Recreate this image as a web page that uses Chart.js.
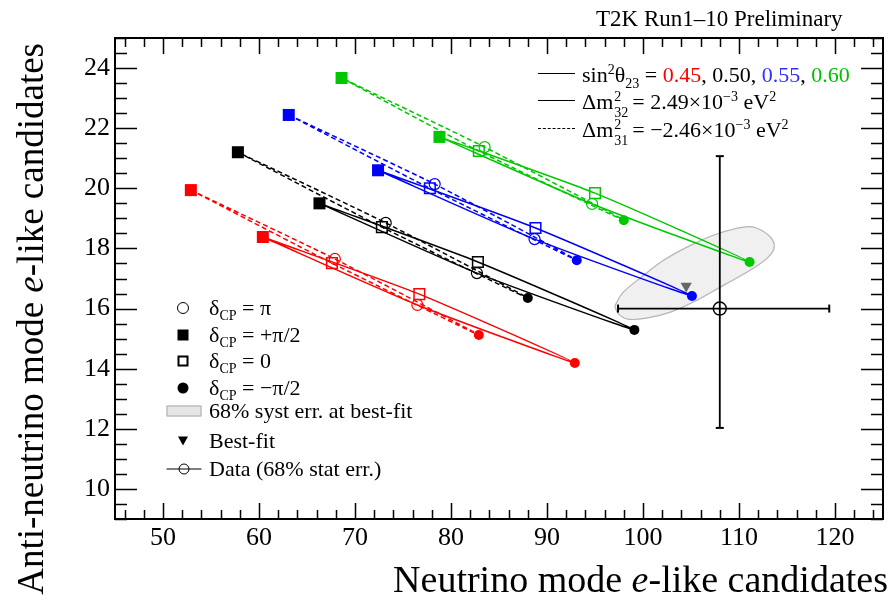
<!DOCTYPE html>
<html>
<head>
<meta charset="utf-8">
<script src="https://cdn.jsdelivr.net/npm/chart.js@4.4.1/dist/chart.umd.min.js"></script>
<style>
  body { margin: 0; background: #fff; }
  #wrap { position: relative; width: 892px; height: 605px; font-family: 'Liberation Serif', 'Times New Roman', serif; color: #000; }
  #plot { position: absolute; left: 0; top: 0; }
  .txt { position: absolute; white-space: nowrap; line-height: 1; }
  .red { color: #ff0000; } .blue { color: #3030ff; } .green { color: #00c000; }
  .ss { position: relative; display: inline-block; width: 19px; height: 1px; }
  .ss .up { position: absolute; left: 1px; bottom: 5px; font-size: 14px; }
  .ss .dn { position: absolute; left: 1px; top: -2px; font-size: 14px; }
  .sm { font-size: 14px; }
  .lsamp { position: absolute; left: 538px; width: 37px; border-top: 1.5px solid #000; }
  .lsamp.dash { border-top: 1.5px dashed #000; }
  .sym { position: absolute; transform: translate(-50%, -50%); box-sizing: border-box; }
  .ocirc { width: 12px; height: 12px; border: 1.5px solid #000; border-radius: 50%; }
  .fsq { width: 11px; height: 11px; background: #000; }
  .osq { width: 11px; height: 11px; border: 2px solid #000; }
  .fcirc { width: 11px; height: 11px; border-radius: 50%; background: #000; }
  .gbox { width: 35px; height: 11px; background: #e6e6e6; border: 1.5px solid #aaa; }
  .tri { width: 0; height: 0; border-left: 5px solid transparent; border-right: 5px solid transparent; border-top: 9px solid #000; }
  .hl { width: 35px; height: 0; border-top: 1.5px solid #000; }
  .leg2 { font-size: 22px; }
  .leg2 sub { font-size: 14px; vertical-align: -5px; }
</style>
</head>
<body>
<div id="wrap">
  <canvas id="plot" width="892" height="605"></canvas>

  <div class="txt" style="left:596px; top:7px; font-size:23px;">T2K Run1–10 Preliminary</div>

  <div class="lsamp" style="top:73px;"></div>
  <div class="txt" style="left:582px; top:63px; font-size:22px;">sin<sup class="sm">2</sup>θ<sub class="sm">23</sub> = <span class="red">0.45</span>, 0.50, <span class="blue">0.55</span>, <span class="green">0.60</span></div>
  <div class="lsamp" style="top:100px;"></div>
  <div class="txt" style="left:582px; top:90px; font-size:22px;">Δm<span class="ss"><span class="up">2</span><span class="dn">32</span></span>= 2.49×10<sup class="sm">−3</sup> eV<sup class="sm">2</sup></div>
  <div class="lsamp dash" style="top:128px;"></div>
  <div class="txt" style="left:582px; top:118px; font-size:22px;">Δm<span class="ss"><span class="up">2</span><span class="dn">31</span></span>= −2.46×10<sup class="sm">−3</sup> eV<sup class="sm">2</sup></div>

  <div class="sym ocirc" style="left:183px; top:308px;"></div>
  <div class="txt leg2" style="left:209px; top:297px;">δ<sub>CP</sub> = π</div>
  <div class="sym fsq" style="left:183px; top:335px;"></div>
  <div class="txt leg2" style="left:209px; top:324px;">δ<sub>CP</sub> = +π/2</div>
  <div class="sym osq" style="left:183px; top:361px;"></div>
  <div class="txt leg2" style="left:209px; top:350px;">δ<sub>CP</sub> = 0</div>
  <div class="sym fcirc" style="left:183px; top:388px;"></div>
  <div class="txt leg2" style="left:209px; top:377px;">δ<sub>CP</sub> = −π/2</div>
  <div class="sym gbox" style="left:184px; top:411px;"></div>
  <div class="txt leg2" style="left:209px; top:400px;">68% syst err. at best-fit</div>
  <div class="sym tri" style="left:183px; top:441px;"></div>
  <div class="txt leg2" style="left:209px; top:430px;">Best-fit</div>
  <div class="sym hl" style="left:184px; top:469px;"></div>
  <div class="sym ocirc" style="left:184px; top:469px; width:11px; height:11px;"></div>
  <div class="txt leg2" style="left:209px; top:458px;">Data (68% stat err.)</div>

  <div class="txt" style="right:4px; top:560px; font-size:38px; line-height:38px;">Neutrino mode <i>e</i>-like candidates</div>
  <div class="txt" style="left:12px; top:603px; width:560px; text-align:right; font-size:37px; line-height:37px; transform-origin:0 0; transform:rotate(-90deg);">Anti-neutrino mode <i>e</i>-like candidates</div>
</div>

<script>
// sin^2(theta23) = 0.45, 0.50, 0.55, 0.60  (red, black, blue, green)
const sin2Labels = ['0.45', '0.50', '0.55', '0.60'];
const lineColours = ['#ff0000', '#000000', '#0000ff', '#00c800'];

// normal ordering (solid)
const noPlusHalfPi  = [{x: 60.4, y: 18.38}, {x: 66.3, y: 19.50}, {x: 72.4, y: 20.60}, {x: 78.8, y: 21.71}];
const noZero        = [{x: 76.7, y: 16.48}, {x: 82.8, y: 17.55}, {x: 88.8, y: 18.68}, {x: 95.0, y: 19.84}];
const noMinusHalfPi = [{x: 92.9, y: 14.19}, {x: 99.1, y: 15.29}, {x: 105.1, y: 16.42}, {x: 111.1, y: 17.55}];
const noPi          = [{x: 76.5, y: 16.12}, {x: 82.7, y: 17.18}, {x: 88.7, y: 18.31}, {x: 94.7, y: 19.48}];

// inverted ordering (dashed)
const ioPlusHalfPi  = [{x: 52.9, y: 19.94}, {x: 57.8, y: 21.20}, {x: 63.1, y: 22.44}, {x: 68.6, y: 23.67}];
const ioZero        = [{x: 67.6, y: 17.51}, {x: 72.8, y: 18.71}, {x: 77.8, y: 20.00}, {x: 82.9, y: 21.24}];
const ioMinusHalfPi = [{x: 82.9, y: 15.12}, {x: 88.0, y: 16.35}, {x: 93.1, y: 17.61}, {x: 98.0, y: 18.94}];
const ioPi          = [{x: 67.9, y: 17.65}, {x: 73.2, y: 18.85}, {x: 78.3, y: 20.14}, {x: 83.5, y: 21.37}];

const bestFit = {x: 104.5, y: 16.75};
const dataPoint = {x: 108, y: 16};
const dataXRange = [97.4, 119.4];
const dataYRange = [12.03, 21.07];

// 68% syst. contour, read round the outline
const systContour = [
  {x: 97.06, y: 16.09}, {x: 97.88, y: 16.52}, {x: 99.85, y: 17.05}, {x: 102.22, y: 17.62},
  {x: 105.0, y: 18.11}, {x: 107.69, y: 18.48}, {x: 110.47, y: 18.71}, {x: 111.82, y: 18.68},
  {x: 113.26, y: 18.38}, {x: 113.67, y: 18.05}, {x: 113.05, y: 17.71}, {x: 111.2, y: 17.28},
  {x: 108.41, y: 16.78}, {x: 105.62, y: 16.28}, {x: 102.94, y: 15.89}, {x: 100.46, y: 15.69},
  {x: 98.4, y: 15.65}, {x: 97.37, y: 15.85}, {x: 97.06, y: 16.09}
];

const xTicks = [50, 60, 70, 80, 90, 100, 110, 120];
const yTicks = [10, 12, 14, 16, 18, 20, 22, 24];

const datasets = [];

function markerSet(pts, style, radius, filled, borderW) {
  const all = pts.no.concat(pts.io);
  const cols = lineColours.concat(lineColours);
  return {
    data: all,
    showLine: false,
    pointStyle: style,
    pointRadius: radius,
    pointBackgroundColor: filled ? cols : 'rgba(0,0,0,0)',
    pointBorderColor: cols,
    pointBorderWidth: filled ? 0 : borderW,
    order: 0
  };
}
datasets.push(markerSet({no: noMinusHalfPi, io: ioMinusHalfPi}, 'circle', 5, true));
datasets.push(markerSet({no: noPlusHalfPi, io: ioPlusHalfPi}, 'rect', 8.5, true));
datasets.push(markerSet({no: noZero, io: ioZero}, 'rect', 7.5, false, 1.5));
datasets.push(markerSet({no: noPi, io: ioPi}, 'circle', 5.5, false, 1.2));

// best fit + data with errors
datasets.push({
  data: [bestFit], showLine: false, pointStyle: 'triangle', pointRotation: 180,
  pointRadius: 6.5, pointBackgroundColor: '#666', pointBorderColor: '#666', pointBorderWidth: 0, order: 0
});
datasets.push({
  data: [dataPoint], showLine: false, pointStyle: 'circle', pointRadius: 6.5,
  pointBackgroundColor: 'rgba(0,0,0,0)', pointBorderColor: '#000', pointBorderWidth: 1.5, order: 1
});
datasets.push({
  data: [{x: dataXRange[0], y: dataPoint.y}, {x: dataXRange[1], y: dataPoint.y}],
  showLine: true, borderColor: '#000', borderWidth: 1.8,
  pointStyle: 'line', pointRotation: 90, pointRadius: 4, pointBorderColor: '#000', pointBorderWidth: 2, order: 1
});
datasets.push({
  data: [{x: dataPoint.x, y: dataYRange[0]}, {x: dataPoint.x, y: dataYRange[1]}],
  showLine: true, borderColor: '#000', borderWidth: 1.8,
  pointStyle: 'line', pointRotation: 0, pointRadius: 4, pointBorderColor: '#000', pointBorderWidth: 2, order: 1
});

// trajectories: +pi/2 -> 0 -> -pi/2 -> pi -> +pi/2
for (let i = 0; i < 4; i++) {
  datasets.push({
    data: [noPlusHalfPi[i], noZero[i], noMinusHalfPi[i], noPi[i], noPlusHalfPi[i]],
    showLine: true, borderColor: lineColours[i], borderWidth: 1.5, pointRadius: 0, tension: 0.2, order: 2
  });
  datasets.push({
    data: [ioPlusHalfPi[i], ioZero[i], ioMinusHalfPi[i], ioPi[i], ioPlusHalfPi[i]],
    showLine: true, borderColor: lineColours[i], borderWidth: 1.5, borderDash: [5, 3],
    pointRadius: 0, tension: 0.2, order: 2
  });
}

datasets.push({
  data: systContour, showLine: true, fill: 'shape', backgroundColor: '#f0f0f0',
  borderColor: '#b4b4b4', borderWidth: 1.2, pointRadius: 0, tension: 0.4, order: 3
});

// inward ticks on all four sides + frame, like the ROOT original
const frameTicks = {
  id: 'frameTicks',
  afterDraw(chart) {
    const {ctx, chartArea: a, scales: {x, y}} = chart;
    ctx.save();
    ctx.strokeStyle = '#000';
    ctx.lineWidth = 1.5;
    ctx.beginPath();
    for (let v = Math.ceil(x.min / 2) * 2; v <= x.max; v += 2) {
      const px = Math.round(x.getPixelForValue(v)) + 0.5;
      const len = v % 10 === 0 ? 16 : 9;
      ctx.moveTo(px, a.bottom); ctx.lineTo(px, a.bottom - len);
      ctx.moveTo(px, a.top); ctx.lineTo(px, a.top + len);
    }
    for (let v = Math.ceil(y.min * 2) / 2; v <= y.max; v += 0.5) {
      const py = Math.round(y.getPixelForValue(v)) + 0.5;
      const len = v % 2 === 0 ? 22 : 12;
      ctx.moveTo(a.left, py); ctx.lineTo(a.left + len, py);
      ctx.moveTo(a.right, py); ctx.lineTo(a.right - len, py);
    }
    ctx.stroke();
    ctx.lineWidth = 2;
    ctx.strokeRect(a.left, a.top, a.right - a.left, a.bottom - a.top);
    ctx.restore();
  }
};

new Chart(document.getElementById('plot'), {
  type: 'scatter',
  data: {datasets: datasets},
  options: {
    responsive: false,
    animation: false,
    layout: {padding: {top: 38, right: 2, left: 0, bottom: 0}},
    plugins: {legend: {display: false}, tooltip: {enabled: false}},
    scales: {
      x: {
        type: 'linear', min: 45, max: 125,
        grid: {display: false, drawTicks: false},
        border: {display: false},
        afterBuildTicks: s => { s.ticks = xTicks.map(v => ({value: v})); },
        afterFit: s => { s.height = 86; },
        ticks: {padding: 4, color: '#000', font: {family: "'Liberation Serif', serif", size: 26}}
      },
      y: {
        type: 'linear', min: 9, max: 25,
        grid: {display: false, drawTicks: false},
        border: {display: false},
        afterBuildTicks: s => { s.ticks = yTicks.map(v => ({value: v})); },
        afterFit: s => { s.width = 115; },
        ticks: {padding: 5, color: '#000', font: {family: "'Liberation Serif', serif", size: 26}}
      }
    }
  },
  plugins: [frameTicks]
});
</script>
</body>
</html>
